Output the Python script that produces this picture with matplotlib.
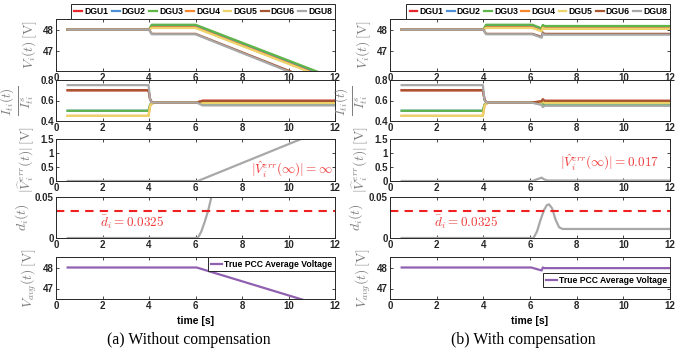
import matplotlib
matplotlib.use("Agg")
import matplotlib.pyplot as plt

plt.rcParams['font.family'] = ['Liberation Sans', 'DejaVu Sans']
plt.rcParams['mathtext.fontset'] = 'cm'

W, H = 694, 352

# ---------------- data ----------------
dgu_names = ["DGU1", "DGU2", "DGU3", "DGU4", "DGU5", "DGU6", "DGU8"]
dgu_colors = ["#e8262a", "#4d8fd6", "#5fb548", "#f5862a", "#ecd36a", "#a5552f", "#a8a8a8"]

# (a) without compensation
a_v_t = [0.5, 4.0, 4.12, 6.0, 12.0]
a_v = {
    "DGU1": [48.0, 48.0, 48.12, 48.12, 45.6],
    "DGU2": [48.0, 48.0, 48.20, 48.20, 45.66],
    "DGU3": [48.0, 48.0, 48.23, 48.23, 45.70],
    "DGU4": [48.0, 48.0, 48.10, 48.10, 45.56],
    "DGU5": [48.0, 48.0, 48.08, 48.08, 45.54],
    "DGU6": [48.0, 48.0, 47.80, 47.80, 45.20],
    "DGU8": [48.0, 48.0, 47.78, 47.78, 45.15],
}
a_i_t = [0.5, 3.98, 4.05, 4.12, 4.25, 6.05, 6.3, 12.0]
a_i = {
    "DGU1": [0.70, 0.70, 0.61, 0.585, 0.58, 0.58, 0.598, 0.598],
    "DGU2": [0.50, 0.50, 0.56, 0.575, 0.58, 0.58, 0.572, 0.572],
    "DGU3": [0.50, 0.50, 0.56, 0.575, 0.58, 0.58, 0.570, 0.570],
    "DGU4": [0.45, 0.45, 0.55, 0.57, 0.58, 0.58, 0.590, 0.590],
    "DGU5": [0.45, 0.45, 0.55, 0.57, 0.58, 0.58, 0.576, 0.576],
    "DGU6": [0.70, 0.70, 0.61, 0.585, 0.58, 0.58, 0.596, 0.596],
    "DGU8": [0.75, 0.75, 0.60, 0.585, 0.58, 0.58, 0.552, 0.552],
}
a_err_t = [0.5, 6.1, 12.0]
a_err = [0.0, 0.0, 1.99]
a_d_t = [0.5, 6.1, 6.25, 6.4, 6.55, 6.7, 6.85]
a_d = [0.0, 0.0, 0.008, 0.02, 0.034, 0.052, 0.072]
a_avg_t = [0.5, 6.05, 12.0]
a_avg = [48.0, 48.0, 46.0]

# (b) with compensation
b_v_t = [0.5, 4.0, 4.12, 6.1, 6.5, 6.55, 6.62, 12.0]
b_v = {
    "DGU1": [48.0, 48.0, 48.12, 48.12, 47.98, 48.12, 48.08, 48.08],
    "DGU2": [48.0, 48.0, 48.20, 48.20, 48.04, 48.20, 48.15, 48.15],
    "DGU3": [48.0, 48.0, 48.23, 48.23, 48.06, 48.22, 48.17, 48.17],
    "DGU4": [48.0, 48.0, 48.10, 48.10, 47.94, 48.10, 48.05, 48.05],
    "DGU5": [48.0, 48.0, 48.08, 48.08, 47.92, 48.08, 48.04, 48.04],
    "DGU6": [48.0, 48.0, 47.80, 47.80, 47.66, 47.86, 47.80, 47.80],
    "DGU8": [48.0, 48.0, 47.78, 47.78, 47.62, 47.82, 47.76, 47.76],
}
b_i_t = [0.5, 3.98, 4.05, 4.12, 4.25, 6.05, 6.5, 6.55, 6.62, 12.0]
b_i = {
    "DGU1": [0.70, 0.70, 0.61, 0.585, 0.58, 0.58, 0.590, 0.61, 0.596, 0.596],
    "DGU2": [0.50, 0.50, 0.56, 0.575, 0.58, 0.58, 0.574, 0.56, 0.572, 0.572],
    "DGU3": [0.50, 0.50, 0.56, 0.575, 0.58, 0.58, 0.572, 0.56, 0.570, 0.570],
    "DGU4": [0.45, 0.45, 0.55, 0.57, 0.58, 0.58, 0.588, 0.60, 0.588, 0.588],
    "DGU5": [0.45, 0.45, 0.55, 0.57, 0.58, 0.58, 0.578, 0.59, 0.577, 0.577],
    "DGU6": [0.70, 0.70, 0.61, 0.585, 0.58, 0.58, 0.592, 0.612, 0.597, 0.597],
    "DGU8": [0.75, 0.75, 0.60, 0.585, 0.58, 0.58, 0.556, 0.535, 0.548, 0.548],
}
b_err_t = [0.5, 6.1, 6.3, 6.5, 6.6, 6.75, 12.0]
b_err = [0.0, 0.0, 0.06, 0.12, 0.06, 0.017, 0.017]
b_d_t = [0.5, 6.15, 6.3, 6.45, 6.6, 6.72, 6.82, 6.95, 7.1, 7.25, 7.4, 12.0]
b_d = [0.0, 0.0, 0.008, 0.022, 0.034, 0.040, 0.041, 0.036, 0.022, 0.013, 0.011, 0.011]
b_avg_t = [0.5, 6.05, 6.5, 6.55, 6.62, 12.0]
b_avg = [48.0, 48.0, 47.86, 48.0, 47.97, 47.97]

# ---------------- layout ----------------
cols = [(56, 335), (390, 670)]
rows = [(19, 71), (80, 121), (139, 181), (197, 238), (257, 299)]


def pos(l, r, t, b):
    return [l / W, 1 - b / H, (r - l) / W, (b - t) / H]


fig = plt.figure(figsize=(W / 100, H / 100), dpi=100)
fig.patch.set_facecolor("white")

label_color = "#7f7f7f"
tick_kw = dict(fontsize=7, fontweight="bold")
ylabels = [r"$V_i(t)\,[\mathrm{V}]$",
           r"$\frac{I_{ti}(t)}{I_{ti}^{s}}$",
           r"$|\widehat{V}_i^{err}(t)|\,[\mathrm{V}]$",
           r"$d_i(t)$",
           r"$V_{avg}(t)\,[\mathrm{V}]$"]
ylabel_sizes = [10, 13.5, 10, 10, 10]
ylims = [(46.05, 48.5), (0.4, 0.8), (0, 1.5), (0, 0.05), (46.5, 48.5)]
yticks = [[47, 48], [0.4, 0.6, 0.8], [0, 0.5, 1, 1.5], [0, 0.05], [47, 48]]
yticklabels = [["47", "48"], ["0.4", "0.6", "0.8"], ["0", "0.5", "1", "1.5"],
               ["0", "0.05"], ["47", "48"]]

panels = [
    dict(v_t=a_v_t, v=a_v, i_t=a_i_t, i=a_i, e_t=a_err_t, e=a_err, d_t=a_d_t, d=a_d,
         g_t=a_avg_t, g=a_avg, err_txt=r"$|\hat{V}_i^{err}(\infty)| = \infty$",
         err_xy=(8.4, 0.42), leg_loc="upper right", leg_anchor=(1.0, 1.0),
         caption="(a) Without compensation"),
    dict(v_t=b_v_t, v=b_v, i_t=b_i_t, i=b_i, e_t=b_err_t, e=b_err, d_t=b_d_t, d=b_d,
         g_t=b_avg_t, g=b_avg, err_txt=r"$|\hat{V}_i^{err}(\infty)| = 0.017$",
         err_xy=(7.3, 0.66), leg_loc="center right", leg_anchor=(1.0, 0.45),
         caption="(b) With compensation"),
]

lw = 1.6
for c, p in enumerate(panels):
    l, r = cols[c]
    axes = []
    for k, (t, b) in enumerate(rows):
        ax = fig.add_axes(pos(l, r, t, b))
        axes.append(ax)
        ax.set_xlim(0, 12)
        ax.set_ylim(*ylims[k])
        ax.set_xticks(range(0, 13, 2))
        ax.set_xticklabels([str(v) for v in range(0, 13, 2)], **tick_kw)
        ax.set_yticks(yticks[k])
        ax.set_yticklabels(yticklabels[k], **tick_kw)
        ax.tick_params(direction="in", top=True, right=True, length=2.5, width=0.6,
                       pad=1.5, colors="#262626")
        for s in ax.spines.values():
            s.set_linewidth(0.7)
            s.set_color("#262626")
        ax.set_ylabel(ylabels[k], color=label_color,
                      fontsize=ylabel_sizes[k], labelpad=3)

    # V_i
    ax = axes[0]
    for name, col in zip(dgu_names, dgu_colors):
        ax.plot(p["v_t"], p["v"][name], color=col, lw=lw, label=name)
    # I ratio
    ax = axes[1]
    for name, col in zip(dgu_names, dgu_colors):
        ax.plot(p["i_t"], p["i"][name], color=col, lw=lw)
    # err
    ax = axes[2]
    ax.plot(p["e_t"], p["e"], color="#a8a8a8", lw=lw)
    ax.text(p["err_xy"][0], p["err_xy"][1], p["err_txt"], color="#ee3b3b",
            fontsize=9.5, va="center", ha="left")
    # d_i
    ax = axes[3]
    ax.plot(p["d_t"], p["d"], color="#a8a8a8", lw=lw)
    ax.axhline(0.0325, color="#ee2020", lw=1.5, ls=(0, (4, 3)))
    ax.text(1.9, 0.0187, r"$\bar{d}_i = 0.0325$", color="#ee3b3b",
            fontsize=9.5, va="center", ha="left")
    # avg
    ax = axes[4]
    ax.plot(p["g_t"], p["g"], color="#9060b0", lw=lw, label="True PCC Average Voltage")
    lg = ax.legend(loc=p["leg_loc"], bbox_to_anchor=p["leg_anchor"],
                   prop=dict(size=6.2, weight="bold"), handlelength=1.3,
                   handletextpad=0.3, borderpad=0.3, borderaxespad=0.0,
                   fancybox=False, edgecolor="#262626", framealpha=1)
    lg.get_frame().set_linewidth(0.7)
    ax.set_xlabel("time [s]", fontsize=7.5, fontweight="bold", labelpad=3.5)

    # top legend
    h, lab = axes[0].get_legend_handles_labels()
    lg = axes[0].legend(h, lab, loc="lower right",
                        bbox_to_anchor=(r / W, 1 - 19 / H),
                        bbox_transform=fig.transFigure, ncol=7,
                        prop=dict(size=6.2, weight="bold"),
                        handlelength=0.9, handletextpad=0.25, columnspacing=0.4,
                        borderpad=0.35, borderaxespad=0.0, fancybox=False,
                        edgecolor="#262626", framealpha=1)
    lg.get_frame().set_linewidth(0.7)

    fig.text(((l + r) / 2 - 7) / W, 1 - 340 / H, p["caption"],
             family="Liberation Serif", fontsize=11.3, ha="center", va="center")

fig.savefig("out.png", dpi=100)
